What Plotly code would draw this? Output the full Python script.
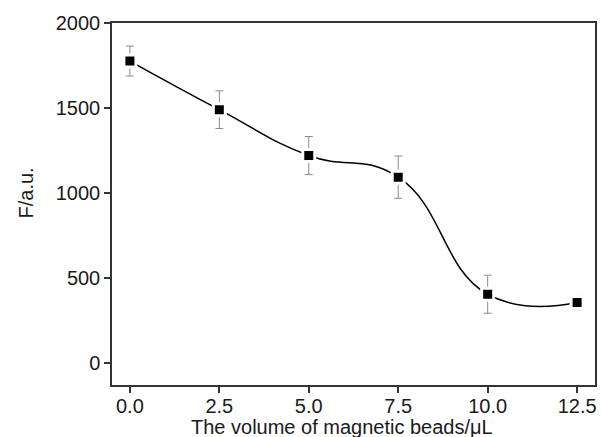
import plotly.graph_objects as go

volume = [0.0, 2.5, 5.0, 7.5, 10.0, 12.5]
fluor = [1776, 1490, 1220, 1093, 404, 355]
err = [88, 111, 112, 124, 112, 42]
xticks = [0.0, 2.5, 5.0, 7.5, 10.0, 12.5]
xtick_text = ["0.0", "2.5", "5.0", "7.5", "10.0", "12.5"]
yticks = [0, 500, 1000, 1500, 2000]
x_title = "The volume of magnetic beads/μL"
y_title = "F/a.u."

FONT = "Liberation Sans, Arial, sans-serif"
TXT = "#1a1a1a"

W, H = 602, 437
ML, MR, MT, MB = 112, 7, 23, 52
PW, PH = W - ML - MR, H - MT - MB

fig = go.Figure()
fig.add_trace(go.Scatter(
    x=volume, y=fluor,
    mode="lines+markers",
    line=dict(color="black", width=1.5, shape="spline", smoothing=1.3),
    marker=dict(symbol="square", size=12, color="black",
                line=dict(color="white", width=3)),
    error_y=dict(type="data", array=err, visible=True,
                 color="#8c8c8c", thickness=1, width=4),
    showlegend=False,
))

axis_common = dict(
    showline=True, linecolor="#333333", linewidth=1.5, mirror=True,
    ticks="outside", ticklen=6, tickwidth=1.5, tickcolor="#333333",
    showgrid=False, zeroline=False, automargin=False,
    tickfont=dict(family=FONT, size=20, color=TXT),
)

fig.update_xaxes(range=[-0.5, 13.0], tickvals=xticks, ticktext=xtick_text,
                 ticklabelstandoff=-4, **axis_common)
fig.update_yaxes(range=[-130, 2000], tickvals=yticks, **axis_common)

fig.add_annotation(text=x_title, xref="paper", yref="paper",
                   x=0.5 * (185 + 498 - 2 * ML) / PW, y=-(427 - (MT + PH)) / PH,
                   xanchor="center", yanchor="middle", showarrow=False,
                   font=dict(family=FONT, size=20, color=TXT))
fig.add_annotation(text=y_title, xref="paper", yref="paper",
                   x=-(ML - 25) / PW, y=0.5 * ((MT + PH - 180) + (MT + PH - 207)) / PH,
                   xanchor="center", yanchor="middle", textangle=-90, showarrow=False,
                   font=dict(family=FONT, size=20, color=TXT))

fig.update_layout(
    width=W, height=H,
    margin=dict(l=ML, r=MR, t=MT, b=MB),
    paper_bgcolor="white", plot_bgcolor="white",
)

fig.write_html("out.html")
